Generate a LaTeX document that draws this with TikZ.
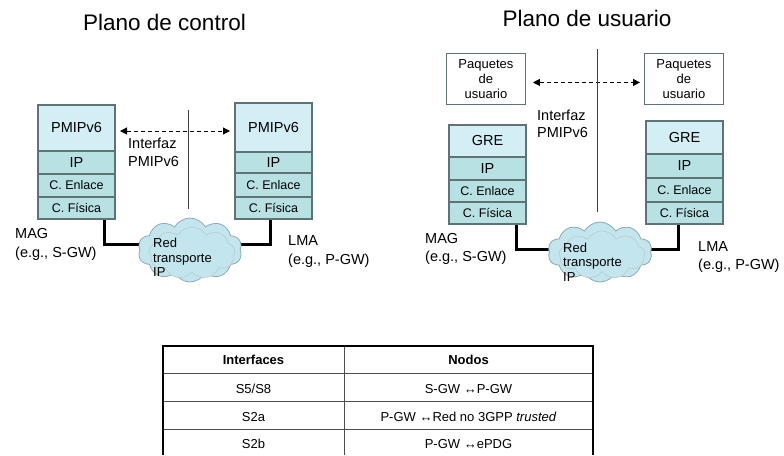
\documentclass[tikz,border=0pt]{standalone}
\usepackage{fontspec}
\setmainfont{Liberation Sans}
\usetikzlibrary{shapes.symbols,arrows.meta}
\pgfdeclarelayer{bg}
\pgfsetlayers{bg,main}
\definecolor{topc}{HTML}{D3EEF5}
\definecolor{lowc}{HTML}{B8E1E4}
\definecolor{edgec}{HTML}{5E7376}
\definecolor{cloudc}{HTML}{C2E5EE}
\definecolor{cloude}{HTML}{8FA9B2}
\newcommand\fsz[2]{\fontsize{#1}{#2}\selectfont}
\begin{document}
\begin{tikzpicture}[x=1pt,y=-1pt,
  lay/.style={draw=edgec, line width=1.1pt, inner sep=0pt, outer sep=0pt,
    minimum width=77pt, anchor=north west},
  toplay/.style={lay, fill=topc, font=\fsz{14.5}{17}},
  lowlay/.style={lay, fill=lowc, font=\fsz{12.5}{15}},
  iplay/.style={lay, fill=lowc, font=\fsz{14.5}{17}},
  pkt/.style={draw=edgec, line width=0.9pt, fill=white, inner sep=0pt,
    minimum width=79pt, minimum height=51pt, anchor=north west, align=center,
    font=\fsz{13}{15}},
  dasharrow/.style={dashed, dash pattern=on 4pt off 3pt, line width=1pt,
    {Triangle[length=7pt,width=7pt]}-{Triangle[length=7pt,width=7pt]}},
  sepline/.style={draw=black!75, line width=0.9pt},
  thickl/.style={line width=3pt, black},
  cloudsh/.style={cloud, cloud puffs=10, cloud puff arc=120, aspect=1.6,
    minimum width=104pt, minimum height=64pt, inner sep=0pt,
    fill=cloudc, draw=cloude, line width=0.8pt},
  cloudin/.style={cloud, cloud puffs=9, cloud puff arc=120, aspect=1.6,
    minimum width=86pt, minimum height=52pt, inner sep=0pt,
    fill=cloudc, draw=cloude!60, line width=0.6pt},
  cloudtxt/.style={anchor=west, align=left, inner sep=0pt, font=\fsz{13}{14.5}},
  lbl/.style={anchor=west, align=left, inner sep=0pt, font=\fsz{14.5}{19}},
  iface/.style={anchor=west, align=left, inner sep=0pt, font=\fsz{14.5}{18}},
  title/.style={anchor=base, inner sep=0pt, font=\fsz{22.5}{26}},
  tbltxt/.style={inner sep=0pt, font=\fsz{13}{15}},
  tblo/.style={line width=2.2pt, black, line join=miter},
  tbli/.style={line width=0.9pt, black!70}]
\useasboundingbox (0,0) rectangle (784,455);

% titles
\node[title] (t1) at (164.5,30) {Plano de control};
\node[title] (t2) at (587,27) {Plano de usuario};

% ---------- left panel ----------
\node[toplay, minimum height=46pt] (L1a) at (38,105) {PMIPv6};
\node[iplay,  minimum height=23pt] (L1b) at (38,151) {IP};
\node[lowlay, minimum height=23pt] (L1c) at (38,174) {C. Enlace};
\node[lowlay, minimum height=22pt] (L1d) at (38,197) {C. Física};

\node[toplay, minimum height=49pt] (L2a) at (235,103) {PMIPv6};
\node[iplay,  minimum height=21pt] (L2b) at (235,152) {IP};
\node[lowlay, minimum height=24pt] (L2c) at (235,173) {C. Enlace};
\node[lowlay, minimum height=22pt] (L2d) at (235,197) {C. Física};

\draw[dasharrow, shorten <=5pt, shorten >=5pt]
  ([yshift=-3pt]L1a.east) -- ([yshift=-3pt]L1a.east -| L2a.west);

\coordinate (v1a) at (188,110);
\coordinate (v1b) at (188,209);
\draw[sepline] (v1a) -- (v1b);

\node[iface] (if1) at (128,152) {Interfaz\\PMIPv6};

\node[cloudsh] (CL) at (190,250) {};
\node[cloudin] (CLi) at (192,253) {};
\node[cloudtxt] (CLt) at (153,257.5) {Red\\transporte\\IP};

\begin{pgfonlayer}{bg}
\draw[thickl] ([xshift=-11pt]L1d.south east) |- ([yshift=6pt]CL.center);
\draw[thickl] ([xshift=35pt]L2d.south west) |- ([yshift=6pt]CL.center);
\end{pgfonlayer}

\node[lbl] (magL) at (15,244.5) {MAG\\(e.g., S-GW)};
\node[lbl] (lmaL) at (288,251.5) {LMA\\(e.g., P-GW)};

% ---------- right panel ----------
\node[pkt] (P1) at (446,53) {Paquetes\\de\\usuario};
\node[pkt] (P2) at (644,53) {Paquetes\\de\\usuario};
\draw[dasharrow, shorten <=7pt, shorten >=4pt]
  ([yshift=-3.5pt]P1.east) -- ([yshift=-3.5pt]P1.east -| P2.west);

\node[toplay, minimum height=32pt] (R1a) at (449,125) {GRE};
\node[iplay,  minimum height=23pt] (R1b) at (449,157) {IP};
\node[lowlay, minimum height=22pt] (R1c) at (449,180) {C. Enlace};
\node[lowlay, minimum height=22pt] (R1d) at (449,202) {C. Física};

\node[toplay, minimum height=33pt] (R2a) at (646,121) {GRE};
\node[iplay,  minimum height=24pt] (R2b) at (646,154) {IP};
\node[lowlay, minimum height=24pt] (R2c) at (646,178) {C. Enlace};
\node[lowlay, minimum height=22pt] (R2d) at (646,202) {C. Física};

\coordinate (v2a) at (597,49);
\coordinate (v2b) at (597,212);
\draw[sepline] (v2a) -- (v2b);

\node[iface, font=\fsz{14.5}{17}] (if2) at (537,123.5) {Interfaz\\PMIPv6};

\node[cloudsh, minimum height=60pt] (CR) at (600,252) {};
\node[cloudin, minimum height=48pt] (CRi) at (602,255) {};
\node[cloudtxt] (CRt) at (563,262) {Red\\transporte\\IP};

\begin{pgfonlayer}{bg}
\draw[thickl] ([xshift=-10pt]R1d.south east) |- ([yshift=3pt]CR.center);
\draw[thickl] ([xshift=32pt]R2d.south west) |- ([yshift=3pt]CR.center);
\end{pgfonlayer}

\node[lbl, font=\fsz{14.5}{18}] (magR) at (425,249) {MAG\\(e.g., S-GW)};
\node[lbl, font=\fsz{14.5}{18}] (lmaR) at (698,257) {LMA\\(e.g., P-GW)};

% ---------- table ----------
\coordinate (tA) at (163,455);
\coordinate (tB) at (163,346);
\coordinate (tC) at (593,346);
\coordinate (tD) at (593,455);
\coordinate (r1a) at (163,373); \coordinate (r1b) at (593,373);
\coordinate (r2a) at (163,401); \coordinate (r2b) at (593,401);
\coordinate (r3a) at (163,429); \coordinate (r3b) at (593,429);
\coordinate (ca) at (344,346); \coordinate (cb) at (344,455);
\draw[tbli] (r1a) -- (r1b);
\draw[tbli] (r2a) -- (r2b);
\draw[tbli] (r3a) -- (r3b);
\draw[tbli] (ca) -- (cb);
\draw[tblo] (tA) -- (tB) -- (tC) -- (tD);

\node[tbltxt] (h1) at (253.5,360) {\bfseries Interfaces};
\node[tbltxt] (h2) at (468.5,360) {\bfseries Nodos};
\node[tbltxt] (c11) at (253.5,389) {S5/S8};
\node[tbltxt] (c12) at (468.5,389) {S-GW ↔P-GW};
\node[tbltxt] (c21) at (253.5,417) {S2a};
\node[tbltxt] (c22) at (468.5,417) {P-GW ↔Red no 3GPP \textit{trusted}};
\node[tbltxt] (c31) at (253.5,444) {S2b};
\node[tbltxt] (c32) at (468.5,444) {P-GW ↔ePDG};
\end{tikzpicture}
\end{document}
